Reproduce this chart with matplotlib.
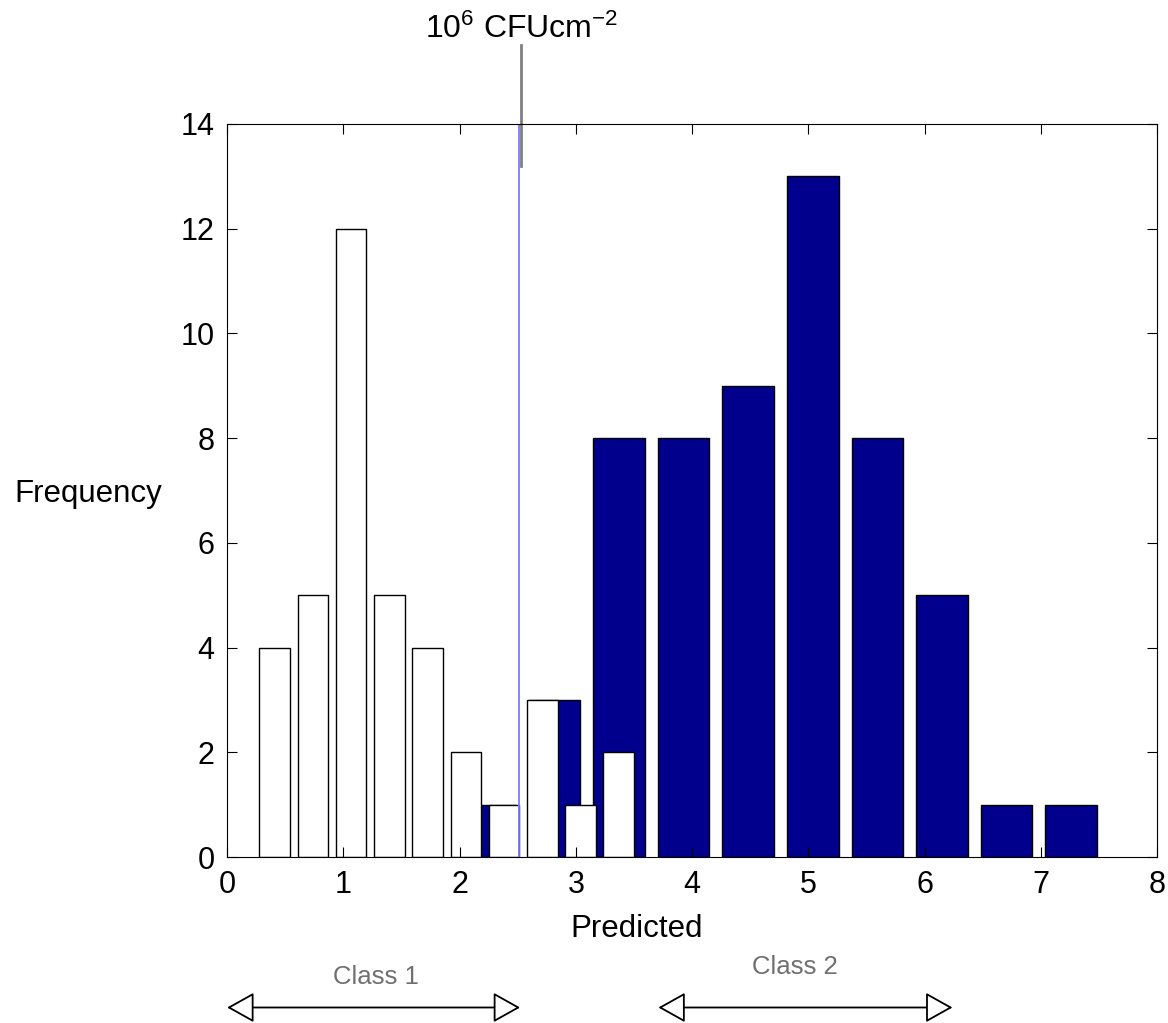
import numpy as np
import matplotlib
matplotlib.use("Agg")
import matplotlib.pyplot as plt

plt.rcParams['font.family'] = ['Liberation Sans', 'DejaVu Sans']
plt.rcParams['mathtext.fontset'] = 'custom'
plt.rcParams['mathtext.rm'] = 'Liberation Sans'
plt.rcParams['mathtext.it'] = 'Liberation Sans:italic'

# Class 1 histogram (white bars)
class1_centers = [0.408, 0.737, 1.066, 1.395, 1.724, 2.053, 2.382, 2.711, 3.040, 3.369]
class1_counts = [4, 5, 12, 5, 4, 2, 1, 3, 1, 2]

# Class 2 histogram (blue bars)
class2_centers = [2.260, 2.815, 3.371, 3.927, 4.482, 5.038, 5.594, 6.149, 6.705, 7.261]
class2_counts = [1, 3, 8, 8, 9, 13, 8, 5, 1, 1]

threshold = 2.51
xticks = list(range(0, 9))
yticks = list(range(0, 15, 2))

fig = plt.figure(figsize=(11.68, 10.23), dpi=100)
ax = fig.add_axes([0.1945, 0.162, 0.7961, 0.717])

w2 = 0.8 * (class2_centers[1] - class2_centers[0])
w1 = 0.8 * (class1_centers[1] - class1_centers[0])
ax.bar(class2_centers, class2_counts, width=w2, color='#00008c', edgecolor='black', linewidth=1)
ax.bar(class1_centers, class1_counts, width=w1, color='white', edgecolor='black', linewidth=1)

ax.axvline(threshold, color='#7878ff', lw=1.3)

ax.set_xlim(0, 8)
ax.set_ylim(0, 14)
ax.set_xticks(xticks)
ax.set_yticks(yticks)
ax.tick_params(direction='in', top=True, right=True, length=7, labelsize=22, pad=9)

ax.set_xlabel('Predicted', fontsize=22.5)
ax.xaxis.set_label_coords(0.44, -0.078)
ax.set_ylabel('Frequency', fontsize=22.5, rotation=0, ha='center', va='center')
ax.yaxis.set_label_coords(-0.149, 0.495)

# threshold label with leader line
ax.plot([threshold + 0.02, threshold + 0.02], [13.2, 15.5], color='#808080', lw=2, clip_on=False)
ax.text(threshold + 0.02, 15.64, '10$^{6}$ CFUcm$^{-2}$', fontsize=23, ha='center', va='baseline')

# class ranges
arrow_y = 1 - 1007.5 / 1023
for x0, x1, label, tx, ty in [(0.0, 2.52, 'Class 1', 376, 977), (3.71, 6.24, 'Class 2', 795, 967)]:
    ax.annotate('', xy=(x1, arrow_y), xytext=(x0, arrow_y),
                xycoords=('data', 'figure fraction'), textcoords=('data', 'figure fraction'),
                arrowprops=dict(arrowstyle='<|-|>,head_length=1.7,head_width=0.95',
                                fc='white', ec='black', lw=1.3, mutation_scale=10,
                                shrinkA=0, shrinkB=0))
    fig.text(tx / 1168, 1 - ty / 1023, label, fontsize=18.5, color='#707070', ha='center', va='center')

fig.savefig('out.png', dpi=100)
